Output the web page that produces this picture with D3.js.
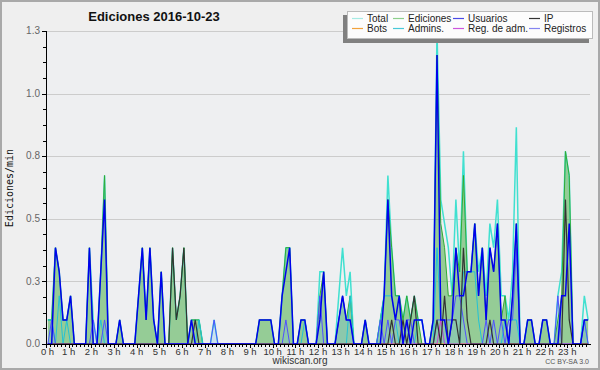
<!DOCTYPE html>
<html><head><meta charset="utf-8">
<script src="https://cdn.jsdelivr.net/npm/d3@7"></script>
<style>
html,body{margin:0;padding:0;background:#efefef;}
svg{display:block;font-family:"Liberation Sans",Arial,sans-serif;}
</style></head>
<body>
<svg id="chart" width="600" height="370"></svg>
<script>
// ---- data: edits per minute, one value per 10-minute slot (144 slots) ----
const titleText = "Ediciones  2016-10-23";
const yLabel = "Ediciones/min";
const hourLabels = ["0 h","1 h","2 h","3 h","4 h","5 h","6 h","7 h","8 h","9 h","10 h","11 h","12 h","13 h","14 h","15 h","16 h","17 h","18 h","19 h","20 h","21 h","22 h","23 h"];
const yTicks = [0, 0.26, 0.52, 0.78, 1.04, 1.3];

const total = [
 0.1,0.1,0.4,0.3,0.1,0.1, 0.2,0,0,0,0,0.4,
 0.1,0,0.3,0.7,0,0, 0,0.1,0,0,0,0,
 0.2,0.4,0.1,0.4,0.1,0, 0.3,0,0,0.4,0.1,0.2,
 0.4,0,0.1,0.1,0.1,0, 0,0,0.1,0,0,0,
 0,0,0,0,0,0, 0,0,0.1,0.1,0.1,0.1,
 0,0,0.2,0.4,0.4,0, 0,0.1,0.1,0,0,0,
 0.3,0.3,0,0,0,0.2, 0.4,0.2,0.3,0,0,0,
 0.1,0,0,0,0.1,0.2, 0.7,0.4,0.2,0.2,0.1,0.2,
 0.1,0.2,0.1,0.1,0,0, 0.1,1.3,0.6,0.5,0.4,0.2,
 0.6,0.3,0.8,0.3,0.3,0.5, 0.3,0.4,0.2,0.5,0.4,0.6,
 0.2,0.2,0.1,0.3,0.9,0, 0,0.1,0.1,0,0,0.1,
 0.1,0,0,0.2,0.3,0.8, 0.7,0,0,0,0.2,0.1];
const ediciones = [
 0.1,0.1,0.4,0.3,0.1,0.1, 0.2,0,0,0,0,0.4,
 0,0,0.3,0.7,0,0, 0,0.1,0,0,0,0,
 0.2,0.4,0.1,0.4,0.1,0, 0.3,0,0,0.4,0.1,0.2,
 0.4,0,0.1,0.1,0.1,0, 0,0,0,0,0,0,
 0,0,0,0,0,0, 0,0,0.1,0.1,0.1,0.1,
 0,0,0.2,0.4,0.4,0, 0,0.1,0.1,0,0,0,
 0.2,0.3,0,0,0,0.1, 0.2,0.1,0.2,0,0,0,
 0.1,0,0,0,0.1,0.2, 0.6,0.4,0.2,0.2,0.1,0.2,
 0.1,0.2,0.1,0,0,0, 0.1,1.2,0.5,0.4,0.2,0.2,
 0.4,0.3,0.7,0.3,0.3,0.5, 0.2,0.4,0.1,0.4,0.3,0.5,
 0.1,0.2,0,0.2,0.5,0, 0,0.1,0.1,0,0,0.1,
 0.1,0,0,0.1,0.2,0.8, 0.7,0,0,0,0.1,0.1];
const usuarios = [
 0,0,0.4,0.3,0.1,0.1, 0.2,0,0,0,0,0.4,
 0,0,0.3,0.6,0,0, 0,0.1,0,0,0,0,
 0.2,0.4,0.1,0.4,0.1,0, 0.3,0,0,0,0,0,
 0,0,0.1,0,0,0, 0,0,0,0,0,0,
 0,0,0,0,0,0, 0,0,0.1,0.1,0.1,0.1,
 0,0,0.2,0.3,0.4,0, 0,0.1,0.1,0,0,0,
 0.1,0.3,0,0,0,0.1, 0.2,0.1,0.1,0,0,0,
 0.1,0,0,0,0,0.2, 0.6,0.2,0.1,0.2,0,0.1,
 0,0.1,0.1,0.1,0,0, 0.1,1.2,0.1,0.1,0,0.1,
 0.4,0.2,0.2,0.3,0.3,0.5, 0.2,0.4,0.1,0.4,0.3,0.5,
 0.1,0.1,0,0.2,0.5,0, 0,0.1,0.1,0,0,0.1,
 0.1,0,0,0,0.2,0.2, 0.5,0,0,0,0.1,0.1];
const ip = [
 0,0,0,0,0,0, 0,0,0,0,0,0,
 0,0,0,0,0,0, 0,0,0,0,0,0,
 0,0,0,0,0,0, 0,0,0,0.4,0.1,0.2,
 0.4,0,0,0.1,0,0, 0,0,0,0,0,0,
 0,0,0,0,0,0, 0,0,0,0,0,0,
 0,0,0,0,0,0, 0,0,0,0,0,0,
 0,0,0,0,0,0, 0,0,0,0,0,0,
 0,0,0,0,0,0, 0,0.1,0,0,0.1,0,
 0.1,0.2,0,0,0,0, 0,0.1,0,0.2,0,0.1,
 0.1,0,0.4,0.1,0,0, 0,0,0,0.1,0,0,
 0,0,0,0,0,0, 0,0,0,0,0,0,
 0,0,0,0,0,0.6, 0.1,0,0,0,0,0];
const bots = [
 0,0,0,0,0,0, 0,0,0,0,0,0,
 0,0,0,0,0,0, 0,0,0,0,0,0,
 0,0,0,0,0,0, 0,0,0,0,0,0,
 0,0,0,0,0,0, 0,0,0,0,0,0,
 0,0,0,0,0,0, 0,0,0,0,0,0,
 0,0,0,0,0,0, 0,0,0,0,0,0,
 0,0,0,0,0,0, 0,0,0,0,0,0,
 0,0,0,0,0,0, 0,0,0,0,0,0,
 0,0,0,0,0,0, 0,0,0,0,0,0,
 0,0,0,0,0,0, 0,0,0,0,0,0,
 0,0,0,0,0,0, 0,0,0,0,0,0,
 0,0,0,0,0,0, 0,0,0,0,0,0];
const admins = [
 0.1,0.1,0,0.2,0,0.1, 0,0,0,0,0,0,
 0,0,0.1,0,0,0, 0,0,0,0,0,0,
 0,0,0,0,0,0, 0,0,0,0,0,0,
 0,0,0,0,0.1,0, 0,0,0,0,0,0,
 0,0,0,0,0,0, 0,0,0,0,0,0,
 0,0,0,0,0,0, 0,0,0.1,0,0,0,
 0,0,0,0,0,0, 0,0,0.2,0,0,0,
 0,0,0,0,0.1,0.2, 0.2,0.2,0.1,0,0,0,
 0,0,0.1,0.1,0,0, 0,0.4,0.1,0,0,0,
 0,0,0.3,0.3,0.3,0.3, 0.1,0,0,0,0,0,
 0,0.1,0.1,0.1,0.1,0, 0,0,0,0,0,0,
 0,0,0,0,0,0, 0,0,0,0,0.1,0];
const regAdm = [
 0,0,0,0,0,0, 0,0,0,0,0,0,
 0,0,0,0,0,0, 0,0,0,0,0,0,
 0,0,0,0,0,0, 0,0,0,0,0,0,
 0,0,0,0,0,0, 0,0,0,0,0,0,
 0,0,0,0,0,0, 0,0,0,0,0,0,
 0,0,0,0,0,0, 0,0,0,0,0,0,
 0,0,0,0,0,0, 0,0,0,0,0,0,
 0,0,0,0,0,0, 0,0,0,0,0,0,
 0,0,0,0,0,0, 0,0,0.1,0,0,0,
 0,0,0,0,0,0, 0,0,0,0,0,0,
 0,0,0,0,0,0, 0,0,0,0,0,0,
 0,0,0,0,0,0, 0,0,0,0,0,0];
const registros = [
 0,0.1,0,0,0,0, 0,0,0,0,0,0,
 0.1,0,0,0.1,0,0, 0,0,0,0,0,0,
 0,0,0,0,0,0, 0,0,0,0,0,0,
 0,0,0,0,0,0, 0,0,0.1,0,0,0,
 0,0,0,0,0,0, 0,0,0,0,0,0,
 0,0,0,0.1,0,0, 0,0,0,0,0,0,
 0.2,0,0,0,0,0.1, 0.2,0.1,0.1,0,0,0,
 0,0,0,0,0.1,0, 0.1,0,0.1,0.1,0,0.1,
 0.1,0,0,0,0,0, 0,0.1,0.1,0.1,0.1,0.1,
 0.2,0.2,0.1,0,0,0, 0,0,0.1,0,0.1,0,
 0.1,0,0.1,0.1,0.4,0, 0,0,0,0,0,0,
 0,0,0,0.2,0,0, 0,0,0,0,0.1,0];

const legendNames = ["Total","Ediciones","Usuarios","IP","Bots","Admins.","Reg. de adm.","Registros"];

// ---- layout ----
const W = 600, H = 370;
const M = {left:46, right:590, top:31, bottom:344};
const svg = d3.select("#chart");
// each value is plotted at the middle of its 10-minute slot (minutes since 00:00)
const slots = d3.range(total.length).map(i => i * 10 + 5);

const x = d3.scaleLinear().domain([0, 1440]).range([M.left, M.right]);
const y = d3.scaleLinear().domain([0, 1.3]).range([M.bottom, M.top]);

// background + frame
svg.append("rect").attr("x",0).attr("y",0).attr("width",W).attr("height",H).attr("fill","#efefef");
svg.append("rect").attr("x",1).attr("y",1).attr("width",W-2).attr("height",H-2)
  .attr("fill","none").attr("stroke","#a9a9a9").attr("stroke-width",2);
svg.append("rect").attr("x",M.left).attr("y",M.top).attr("width",M.right-M.left).attr("height",M.bottom-M.top)
  .attr("fill","#eeeff1");

// gridlines
svg.append("g").selectAll("line").data(yTicks.slice(1)).join("line")
  .attr("x1",M.left).attr("x2",M.right)
  .attr("y1",d=>Math.round(y(d))+0.5).attr("y2",d=>Math.round(y(d))+0.5)
  .attr("stroke","#cccccc").attr("stroke-width",1);

svg.append("clipPath").attr("id","clip").append("rect")
  .attr("x",M.left).attr("y",M.top-2).attr("width",M.right-M.left).attr("height",M.bottom-M.top+2);
const plot = svg.append("g").attr("clip-path","url(#clip)");

const area = d3.area().x((d,i)=>x(slots[i])).y0(y(0)).y1(d=>y(d));
const line = d3.line().x((d,i)=>x(slots[i])).y(d=>y(d));

plot.append("path").datum(ediciones).attr("d",area).attr("fill","rgba(60,170,60,0.5)");
plot.append("path").datum(registros).attr("d",area).attr("fill","rgba(120,190,230,0.28)");

const series = [
  {data: total,     color:"#40e0d0", w:1.5},
  {data: ediciones, color:"#33aa33", w:1},
  {data: bots,      color:"#ff9900", w:1},
  {data: admins,    color:"#22c2d6", w:1},
  {data: registros, color:"#5050ff", w:1},
  {data: regAdm,    color:"#cc44cc", w:1},
  {data: ip,        color:"#333333", w:1.2},
  {data: usuarios,  color:"#0000ee", w:1.5}
];
series.forEach(s => {
  plot.append("path").datum(s.data).attr("d",line)
    .attr("fill","none").attr("stroke",s.color).attr("stroke-width",s.w)
    .attr("stroke-linejoin","miter");
});

// y axis
const yMinor = d3.range(0, 1.3001, 0.065);
const gy = svg.append("g");
gy.append("line").attr("x1",M.left+0.5).attr("x2",M.left+0.5).attr("y1",M.top).attr("y2",M.bottom+1)
  .attr("stroke","#000");
gy.selectAll("line.mn").data(yMinor).join("line").attr("class","mn")
  .attr("x1",M.left-3).attr("x2",M.left)
  .attr("y1",d=>Math.round(y(d))+0.5).attr("y2",d=>Math.round(y(d))+0.5).attr("stroke","#000");
gy.selectAll("line.mj").data(yTicks).join("line").attr("class","mj")
  .attr("x1",M.left-4).attr("x2",M.left)
  .attr("y1",d=>Math.round(y(d))+0.5).attr("y2",d=>Math.round(y(d))+0.5).attr("stroke","#000");
gy.selectAll("text").data(yTicks).join("text")
  .attr("x",M.left-6).attr("y",d=>y(d)+3.2).attr("text-anchor","end")
  .attr("font-size",10).attr("fill","#666").text(d=>d3.format(".1f")(d));

// x axis
const xMinor = d3.range(0, 1440, 10);
const gx = svg.append("g");
gx.append("line").attr("x1",M.left).attr("x2",M.right+1).attr("y1",M.bottom+0.5).attr("y2",M.bottom+0.5)
  .attr("stroke","#000");
gx.selectAll("line.mn").data(xMinor).join("line").attr("class","mn")
  .attr("x1",d=>Math.round(x(d))+0.5).attr("x2",d=>Math.round(x(d))+0.5)
  .attr("y1",M.bottom).attr("y2",M.bottom+3).attr("stroke","#000");
gx.selectAll("line.mj").data(hourLabels).join("line").attr("class","mj")
  .attr("x1",(d,i)=>Math.round(x(i*60))+0.5).attr("x2",(d,i)=>Math.round(x(i*60))+0.5)
  .attr("y1",M.bottom).attr("y2",M.bottom+4).attr("stroke","#000");
gx.selectAll("text").data(hourLabels).join("text")
  .attr("x",(d,i)=>x(i*60)+(i===0?1.5:0)).attr("y",M.bottom+10.5).attr("text-anchor","middle")
  .attr("font-size",9.5).attr("fill","#333").text(d=>d);

// title & labels
svg.append("text").attr("x",154).attr("y",21).attr("text-anchor","middle")
  .attr("font-size",13).attr("font-weight","bold").attr("fill","#111").text(titleText);
svg.append("text").attr("transform","translate(13,188) rotate(-90)").attr("text-anchor","middle")
  .attr("font-family","'DejaVu Sans Mono',monospace").attr("font-size",10).attr("fill","#111").text(yLabel);
svg.append("text").attr("x",300).attr("y",364).attr("text-anchor","middle")
  .attr("font-size",10).attr("fill","#333").text("wikiscan.org");
svg.append("text").attr("x",589).attr("y",364).attr("text-anchor","end")
  .attr("font-size",7).attr("fill","#555").text("CC BY-SA 3.0");

// legend
const legendColors = ["#a6ebe4","#8ccf8c","#4a4ae6","#333333","#f2a23c","#48c8d8","#cc55dd","#8484f0"];
const lg = svg.append("g");
lg.append("rect").attr("x",343).attr("y",15).attr("width",246).attr("height",28).attr("fill","#808080");
lg.append("rect").attr("x",347.5).attr("y",11.5).attr("width",245).attr("height",27)
  .attr("fill","#fcfcfc").attr("stroke","#bbbbbb");
const colX = [352, 393, 453, 529];
legendNames.forEach((n,i) => {
  const c = i % 4, r = Math.floor(i / 4);
  const yy = 18.5 + r * 10;
  lg.append("line").attr("x1",colX[c]).attr("x2",colX[c]+11).attr("y1",yy).attr("y2",yy)
    .attr("stroke",legendColors[i]).attr("stroke-width",1.2);
  lg.append("text").attr("x",colX[c]+15).attr("y",yy+3.8).attr("font-size",10).attr("fill","#222").text(n);
});
</script>
</body></html>
